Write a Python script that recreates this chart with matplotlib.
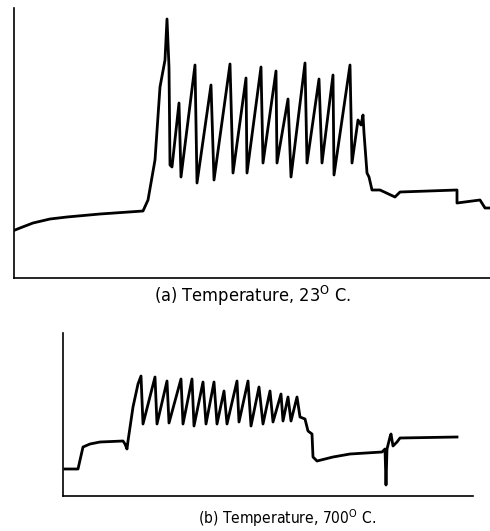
import matplotlib.pyplot as plt

plt.rcParams['font.family'] = ['DejaVu Sans']
plt.rcParams['font.stretch'] = 'condensed'
plt.rcParams['mathtext.fontset'] = 'custom'
plt.rcParams['mathtext.rm'] = 'DejaVu Sans:stretch=condensed'

# trace (a), 23 C: time and signal in chart units
t_a = [1, 6, 19, 36, 53, 86, 129, 134, 141, 146, 151, 153, 155, 156, 158,
       165, 167, 181, 183, 197, 200, 216, 219, 232, 233, 247, 249, 262, 263,
       274, 277, 291, 293, 305, 308, 319, 320, 336, 338, 344, 347, 349, 350,
       353, 355, 358, 366, 381, 386, 443, 443, 466, 471, 476]
s_a = [48, 50, 55, 59, 61, 64, 67, 78, 118, 191, 218, 259, 211, 113, 111,
       175, 101, 213, 95, 193, 98, 214, 105, 200, 105, 211, 115, 207, 115,
       179, 101, 215, 115, 199, 115, 203, 103, 213, 115, 158, 153, 163, 145,
       105, 101, 88, 88, 81, 86, 88, 75, 78, 70, 70]

# trace (b), 700 C
t_b = [2, 15, 20, 27, 37, 60, 62, 64, 65, 70, 75, 78, 80, 92, 94, 104, 106,
       118, 120, 129, 131, 140, 143, 151, 154, 161, 164, 174, 176, 185, 188,
       196, 200, 207, 210, 218, 220, 225, 228, 234, 237, 242, 245, 249, 250,
       254, 270, 287, 319, 322, 323, 324, 327, 328, 330, 334, 337, 394]
s_b = [27, 27, 49, 52, 54, 55, 52, 47, 55, 89, 112, 120, 72, 119, 72, 115, 73,
       117, 72, 117, 70, 114, 72, 114, 72, 105, 72, 115, 74, 115, 70,
       109, 72, 105, 74, 102, 75, 99, 75, 99, 79, 77, 65, 62, 39,
       35, 39, 42, 44, 47, 11, 47, 59, 62, 50, 54, 58, 59]

fig = plt.figure(figsize=(4.9, 5.31), dpi=100)

ax1 = fig.add_axes([14 / 490, 253 / 531, 476 / 490, 270 / 531])
ax1.plot(t_a, s_a, color='black', lw=2.0, solid_joinstyle='round')
ax1.set_xlim(0, 476)
ax1.set_ylim(0, 270)

ax2 = fig.add_axes([63 / 490, 35 / 531, 410 / 490, 163 / 531])
ax2.plot(t_b, s_b, color='black', lw=2.0, solid_joinstyle='round')
ax2.set_xlim(0, 410)
ax2.set_ylim(0, 163)

for ax in (ax1, ax2):
    ax.spines['top'].set_visible(False)
    ax.spines['right'].set_visible(False)
    ax.spines['left'].set_linewidth(1.2)
    ax.spines['bottom'].set_linewidth(1.2)
    ax.set_xticks([])
    ax.set_yticks([])

fig.text(253 / 490, 1 - 296 / 531, r'(a) Temperature, 23$^{\rm O}$ C.',
         ha='center', va='center', fontsize=13.1)
fig.text(287 / 490, 1 - 518 / 531, r'(b) Temperature, 700$^{\rm O}$ C.',
         ha='center', va='center', fontsize=11.2)

fig.savefig('out.png', dpi=100)
